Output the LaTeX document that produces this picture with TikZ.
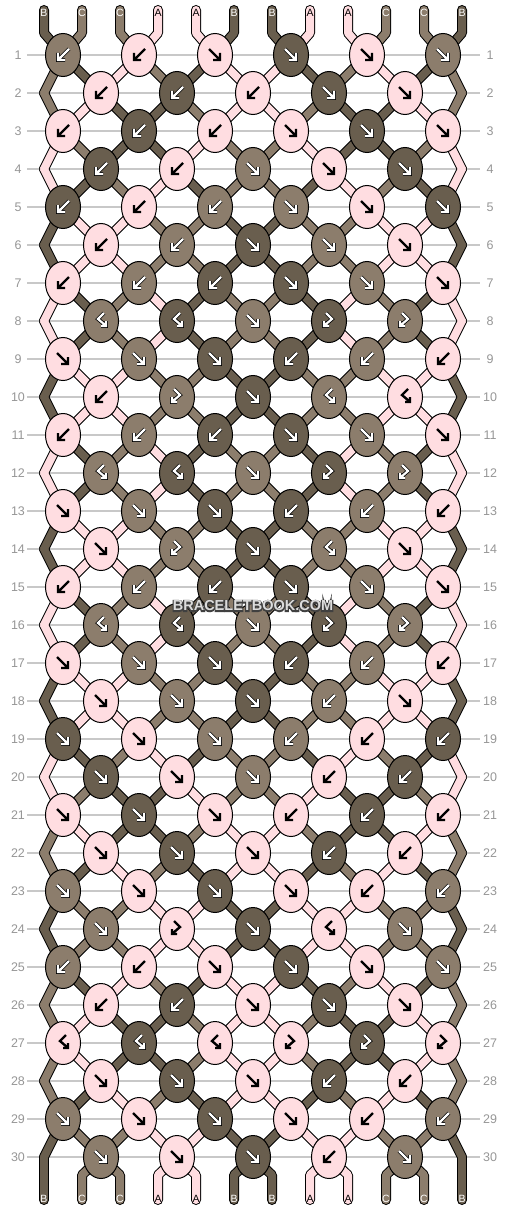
\documentclass[tikz,border=0pt]{standalone}
\usepackage{fontspec}
\setsansfont{Liberation Sans}
\usetikzlibrary{shapes.geometric}

\definecolor{colA}{RGB}{255,221,225}
\definecolor{colB}{RGB}{105,94,78}
\definecolor{colC}{RGB}{140,125,108}
\definecolor{rulegray}{RGB}{200,200,200}
\definecolor{numgray}{RGB}{150,150,150}
\definecolor{markfill}{RGB}{220,220,220}

\newcommand\glyR{(-6,-6) -- (4,4) (5,-2) -- (5,5) -- (-2,5)}
\newcommand\glyL{(6,-6) -- (-4,4) (-5,-2) -- (-5,5) -- (2,5)}
\newcommand\glyF{(-3,-8) -- (3,-2) -- (-4,4) (-5,0) -- (-5,5) -- (0,5)}
\newcommand\glyK{(3,-8) -- (-3,-2) -- (4,4) (5,0) -- (5,5) -- (0,5)}
\newcommand\outlined[1]{\rlap{\special{pdf:literal direct 0.25 0.25 0.25 RG 1 Tr 2.2 w}#1\special{pdf:literal direct 0 Tr}}#1}

\def\strands{%
{B,C,C,A,A,B,B,A,A,C,C,B},{C,B,A,C,B,A,A,B,C,A,B,C},{C,A,B,B,C,A,A,C,B,B,A,C},%
{A,C,B,B,A,C,C,A,B,B,C,A},{A,B,C,A,B,C,C,B,A,C,B,A},{B,A,A,C,C,B,B,C,C,A,A,B},%
{B,A,A,C,C,B,B,C,C,A,A,B},{A,B,C,A,B,C,C,B,A,C,B,A},{A,B,C,A,B,C,C,B,A,C,B,A},%
{B,A,A,C,C,B,B,C,C,A,A,B},{B,A,A,C,C,B,B,C,C,A,A,B},{A,B,C,A,B,C,C,B,A,C,B,A},%
{A,B,C,A,B,C,C,B,A,C,B,A},{B,A,A,C,C,B,B,C,C,A,A,B},{B,A,A,C,C,B,B,C,C,A,A,B},%
{A,B,C,A,B,C,C,B,A,C,B,A},{A,B,C,A,B,C,C,B,A,C,B,A},{B,A,A,C,C,B,B,C,C,A,A,B},%
{B,A,A,C,C,B,B,C,C,A,A,B},{A,B,C,A,B,C,C,B,A,C,B,A},{A,C,B,B,A,C,C,A,B,B,C,A},%
{C,A,B,B,C,A,A,C,B,B,A,C},{C,B,A,C,B,A,A,B,C,A,B,C},{B,C,C,A,A,B,B,A,A,C,C,B},%
{B,C,C,A,A,B,B,A,A,C,C,B},{C,B,A,C,B,A,A,B,C,A,B,C},{C,A,B,B,C,A,A,C,B,B,A,C},%
{C,A,B,B,C,A,A,C,B,B,A,C},{C,B,A,C,B,A,A,B,C,A,B,C},{B,C,C,A,A,B,B,A,A,C,C,B},%
{B,C,C,A,A,B,B,A,A,C,C,B}}

\def\knots{%
{C/L,A/L,A/R,B/R,A/R,C/R},{A/L,B/L,A/L,B/R,A/R},{A/L,B/L,A/L,A/R,B/R,A/R},%
{B/L,A/L,C/R,A/R,B/R},{B/L,A/L,C/L,C/R,A/R,B/R},{A/L,C/L,B/R,C/R,A/R},%
{A/L,C/L,B/L,B/R,C/R,A/R},{C/K,B/K,C/R,B/F,C/F},{A/R,C/R,B/R,B/L,C/L,A/L},%
{A/L,C/F,B/R,C/K,A/K},{A/L,C/L,B/L,B/R,C/R,A/R},{C/K,B/K,C/R,B/F,C/F},%
{A/R,C/R,B/R,B/L,C/L,A/L},{A/R,C/F,B/R,C/K,A/R},{A/L,C/L,B/L,B/R,C/R,A/R},%
{C/K,B/K,C/R,B/F,C/F},{A/R,C/R,B/R,B/L,C/L,A/L},{A/R,C/R,B/R,C/L,A/R},%
{B/R,A/R,C/R,C/L,A/L,B/L},{B/R,A/R,C/R,A/L,B/L},{A/R,B/R,A/R,A/L,B/L,A/L},%
{A/R,B/R,A/R,B/L,A/L},{C/R,A/R,B/R,A/R,A/L,C/L},{C/R,A/F,B/R,A/K,C/R},%
{C/L,A/L,A/R,B/R,A/R,C/R},{A/L,B/L,A/R,B/R,A/R},{A/K,B/K,A/K,A/F,B/F,A/F},%
{A/R,B/R,A/R,B/L,A/L},{C/R,A/R,B/R,A/R,A/L,C/L},{C/R,A/R,B/R,A/L,C/R}}

\begin{document}
\begin{tikzpicture}[x=1pt, y=-1pt,
  knot/.style={ellipse, draw, line width=1pt, minimum width=35pt, minimum height=43pt, inner sep=0pt},
  rownum/.style={text=numgray, font=\sffamily\fontsize{12.5}{13}\selectfont},
  endlabel/.style={font=\sffamily\fontsize{10.5}{11}\selectfont, inner sep=0pt},
  rowline/.style={draw=rulegray, line width=1.2pt},
  wmark/.style={font=\sffamily\bfseries\fontsize{14.5}{15}\selectfont, inner sep=0pt}]
\useasboundingbox (0,0) rectangle (506,1212);

\foreach \ri in {1,...,30} {
  \pgfmathsetmacro\y{55+38*(\ri-1)}
  \node[rownum] (nl-\ri) at (18,\y) {\ri};
  \node[rownum] (nr-\ri) at (490,\y) {\ri};
  \draw[rowline] (27,\y) -- (480,\y);
}

\foreach \pos in {1,...,12} {
  \pgfmathsetmacro\x{44+38*(\pos-1)}
  \coordinate (top-\pos) at (\x,10);
  \coordinate (neck-\pos) at (\x,33);
  \coordinate (foot-\pos) at (\x,1175);
  \coordinate (end-\pos) at (\x,1200);
}
\foreach \ri in {1,...,30}
  \foreach \pos in {1,...,12} {
    \pgfmathsetmacro\dx{ifthenelse(isodd(\ri), ifthenelse(isodd(\pos),19,-19),
      ifthenelse(or(\pos==1,\pos==12),0,ifthenelse(isodd(\pos),-19,19)))}
    \coordinate (t-\ri-\pos) at ({44+38*(\pos-1)+\dx}, {55+38*(\ri-1)});
  }

\foreach \w/\pass in {10/0,8/1}
  \foreach \state [count=\ri from 0] in \strands {
    \pgfmathtruncatemacro\rn{\ri+1}
    \foreach \clr [count=\pos] in \state {
      \ifnum\pass=0 \def\ink{black}\else\def\ink{col\clr}\fi
      \ifnum\ri=0
        \draw[line width=\w pt, line cap=round, line join=round, draw=\ink] (top-\pos) -- (neck-\pos) -- (t-1-\pos);
      \else\ifnum\ri=30
        \draw[line width=\w pt, line cap=round, line join=round, draw=\ink] (t-30-\pos) -- (foot-\pos) -- (end-\pos);
      \else
        \draw[line width=\w pt, line cap=round, draw=\ink] (t-\ri-\pos) -- (t-\rn-\pos);
      \fi\fi
    }
  }

\foreach \clr [count=\pos] in {B,C,C,A,A,B,B,A,A,C,C,B} {
  \pgfmathsetmacro\x{44+38*(\pos-1)}
  \if A\clr \def\ink{black}\else\def\ink{white}\fi
  \node[endlabel, text=\ink] (lt-\pos) at (\x,13) {\clr};
  \node[endlabel, text=\ink] (lb-\pos) at (\x,1199) {\clr};
}

\foreach \krow [count=\ri] in \knots {
  \pgfmathsetmacro\y{55+38*(\ri-1)}
  \pgfmathsetmacro\xo{ifthenelse(isodd(\ri),63,101)}
  \foreach \clr/\kind [count=\kn] in \krow {
    \node[knot, fill=col\clr] (k-\ri-\kn) at ({\xo+76*(\kn-1)}, \y) {};
    \expandafter\let\expandafter\gpath\csname gly\kind\endcsname
    \if A\clr
      \draw[shift={(k-\ri-\kn)}, line width=2.4pt] \gpath;
    \else
      \draw[shift={(k-\ri-\kn)}, line width=3.8pt] \gpath;
      \draw[shift={(k-\ri-\kn)}, white, line width=2.2pt] \gpath;
    \fi
  }
}

\node[wmark, text=markfill] (mark) at (253,606) {\outlined{BRACELETBOOK.COM}};
\end{tikzpicture}
\end{document}
